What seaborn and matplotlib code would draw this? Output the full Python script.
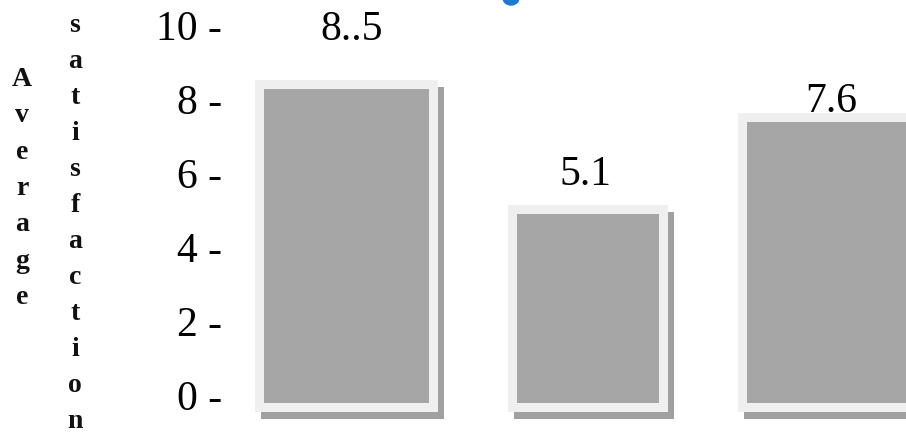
import matplotlib
matplotlib.use("Agg")
import matplotlib.pyplot as plt
import matplotlib.patheffects as pe
import matplotlib.transforms as mtransforms
from matplotlib.patches import Ellipse
import seaborn as sns
import pandas as pd

# ---- data ----
categories = ["Group 1", "Group 2", "Group 3"]
values = [8.5, 5.1, 7.6]
value_labels = ["8..5", "5.1", "7.6"]
y_ticks = [0, 2, 4, 6, 8, 10]
ylabel_words = ["Average", "satisfaction"]

# ---- style / layout ----
W, H, DPI = 906, 437, 100
PX = 72.0 / DPI  # points per pixel
bar_widths = [0.682, 0.587, 0.686]          # in category units
label_offsets_px = [(5, 48), (-3, 29), (2, 10)]
BAR = "#a6a6a6"
FRAME = "#efefef"
SHADOW = "#a0a0a0"

sns.set_theme(style="white")
plt.rcParams["font.family"] = ["Liberation Serif", "DejaVu Serif"]

fig = plt.figure(figsize=(W / DPI, H / DPI), dpi=DPI)
fig.patch.set_facecolor("white")
ax_left = 222
ax = fig.add_axes([ax_left / W, 0, 1 - ax_left / W, 1])
ax.set_facecolor("white")

df = pd.DataFrame({"category": categories, "value": values})
sns.barplot(data=df, x="category", y="value", color=BAR, saturation=1,
            errorbar=None, width=0.65, linewidth=0, edgecolor=BAR, ax=ax)

# individual bar widths, keeping each bar centred on its category
for patch, w in zip(ax.patches, bar_widths):
    cx = patch.get_x() + patch.get_width() / 2
    patch.set_width(w)
    patch.set_x(cx - w / 2)
    patch.set_path_effects([
        pe.Stroke(offset=(6 * PX, -7 * PX), linewidth=18 * PX, foreground=SHADOW),
        pe.Stroke(linewidth=18 * PX, foreground=FRAME),
        pe.Normal(),
    ])

# scales: 241.5 px per category, 37 px per unit, baseline at y=403 px
cat_px, unit_px, base_px, first_cx = 241.5, 37.0, 403.0, 346.5
ax.set_xlim(-(first_cx - ax_left) / cat_px, (W - first_cx) / cat_px)
ax.set_ylim(-(H - base_px) / unit_px, base_px / unit_px)

ax.set_yticks(y_ticks)
ax.set_yticklabels([f"{t} -" for t in y_ticks])
ax.tick_params(axis="y", length=0, pad=0, labelsize=30, labelcolor="black")
ax.set_xticks([])
ax.set_xlabel("")
ax.set_ylabel("")
for sp in ax.spines.values():
    sp.set_visible(False)
shift = mtransforms.ScaledTranslation(0, 8 / DPI, fig.dpi_scale_trans)
for lab in ax.get_yticklabels():
    lab.set_transform(lab.get_transform() + shift)

# value labels above bars
for i, (v, txt) in enumerate(zip(values, value_labels)):
    dx, dy = label_offsets_px[i]
    ax.annotate(txt, xy=(i, v), xytext=(dx * PX, dy * PX),
                textcoords="offset points", ha="center", va="baseline",
                fontsize=30, color="black", annotation_clip=False)

# vertical, letter-by-letter axis title in two columns
columns = [(22, 86, 36.3), (75, 32, 36.0)]  # x px, first baseline px, step px
for word, (xc, y0, step) in zip(ylabel_words, columns):
    for k, ch in enumerate(word):
        fig.text(xc / W, 1 - (y0 + k * step) / H, ch, ha="center",
                 va="baseline", fontsize=20, fontweight="bold", color="#111111")

# small blue marker cut by the top edge (screenshot artifact)
fig.patches.append(Ellipse((511 / W, 1 + 2 / H), 16 / W, 14 / H,
                           transform=fig.transFigure, color="#1f78d1"))

fig.savefig("out.png", dpi=DPI)
